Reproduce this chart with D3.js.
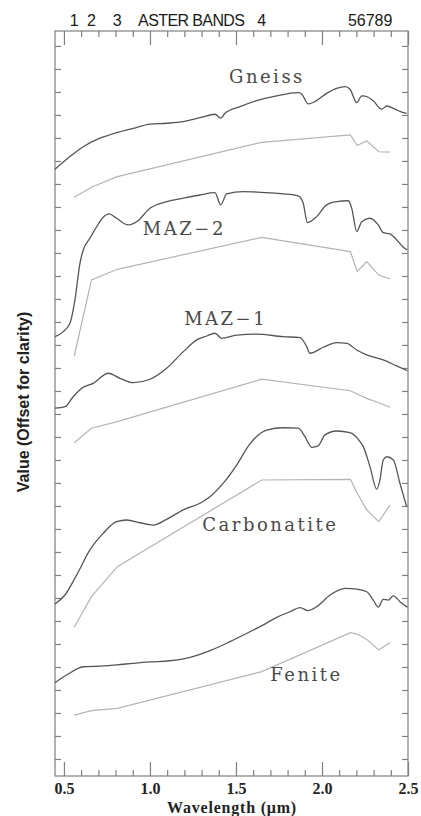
<!DOCTYPE html>
<html>
<head>
<meta charset="utf-8">
<script src="https://cdnjs.cloudflare.com/ajax/libs/d3/7.8.5/d3.min.js"></script>
<style>
  body { margin: 0; background: #fff; }
  .frame { fill: none; stroke: #808080; stroke-width: 1.2; }
  .axis path { display: none; }
  .axis line { stroke: #808080; stroke-width: 1.2; }
  .axis text { font-family: "Liberation Serif", serif; font-weight: bold; font-size: 16px; fill: #222; }
  .lab { fill: none; stroke: #555; stroke-width: 1.3; }
  .aster { fill: none; stroke: #b4b4b4; stroke-width: 1.2; }
  .rock { font-family: "DejaVu Serif", serif; font-size: 18px; letter-spacing: 2.5px; fill: #4a4a4a; }
  .band { font-family: "Liberation Sans", sans-serif; font-size: 16px; fill: #1a1a1a; }
</style>
</head>
<body>
<svg width="421" height="816"></svg>
<script>
// aster band centres (um) and top labels
var asterBands = [0.56, 0.66, 0.81, 1.65, 2.165, 2.205, 2.26, 2.33, 2.395];
var bandNames = ["1", "2", "3", "4", "5", "6", "7", "8", "9"];
var xTicks = [0.5, 1.0, 1.5, 2.0, 2.5];

// lab spectra, offset values
var gneissWl = [0.448, 0.535, 0.612, 0.709, 0.806, 0.903, 1.0, 1.097, 1.194, 1.291, 1.378, 1.411, 1.436, 1.523, 1.62, 1.736, 1.862, 1.882, 1.92, 1.959, 2.027, 2.085, 2.134, 2.163, 2.202, 2.231, 2.269, 2.298, 2.347, 2.376, 2.424, 2.473, 2.492];
var gneissLab = [26.64, 27.19, 27.62, 27.99, 28.23, 28.42, 28.6, 28.64, 28.71, 28.88, 29.03, 28.86, 29.07, 29.36, 29.62, 29.83, 29.97, 29.91, 29.48, 29.58, 29.94, 30.16, 30.23, 30.12, 29.53, 29.83, 29.77, 29.62, 29.25, 29.39, 29.25, 29.1, 29.07];

var maz2Wl = [0.448, 0.496, 0.535, 0.564, 0.593, 0.612, 0.651, 0.69, 0.728, 0.763, 0.806, 0.874, 0.923, 1.0, 1.097, 1.194, 1.291, 1.378, 1.411, 1.446, 1.542, 1.678, 1.775, 1.862, 1.891, 1.915, 1.969, 2.027, 2.085, 2.153, 2.173, 2.202, 2.231, 2.279, 2.327, 2.357, 2.395, 2.434, 2.473, 2.496];
var maz2Lab = [19.36, 19.58, 19.94, 20.96, 22.55, 23.13, 23.64, 24.14, 24.55, 24.7, 24.51, 24.22, 24.36, 24.94, 25.23, 25.38, 25.52, 25.62, 25.09, 25.57, 25.67, 25.62, 25.57, 25.48, 25.16, 24.32, 24.58, 25.09, 25.23, 25.27, 24.94, 23.93, 24.36, 24.51, 24.22, 23.88, 23.83, 23.57, 23.25, 23.13];

var maz1Wl = [0.448, 0.506, 0.554, 0.603, 0.67, 0.758, 0.826, 0.903, 1.0, 1.097, 1.194, 1.272, 1.33, 1.378, 1.417, 1.504, 1.62, 1.775, 1.872, 1.911, 1.93, 2.008, 2.085, 2.144, 2.202, 2.26, 2.356, 2.434, 2.496];
var maz1Lab = [16.25, 16.32, 16.75, 17.12, 17.33, 17.77, 17.55, 17.36, 17.51, 17.99, 18.71, 19.22, 19.39, 19.51, 19.29, 19.43, 19.47, 19.36, 19.32, 18.93, 18.64, 18.9, 19.1, 19.07, 18.78, 18.57, 18.35, 18.09, 17.88];

var carbWl = [0.448, 0.506, 0.574, 0.651, 0.728, 0.806, 0.865, 0.942, 1.019, 1.097, 1.194, 1.291, 1.349, 1.426, 1.504, 1.581, 1.678, 1.775, 1.862, 1.901, 1.94, 1.978, 2.017, 2.085, 2.163, 2.221, 2.24, 2.279, 2.318, 2.337, 2.356, 2.376, 2.415, 2.453, 2.492];
var carbLab = [7.74, 8.13, 9.0, 10.09, 10.81, 11.32, 11.39, 11.27, 11.17, 11.42, 11.83, 12.12, 12.4, 12.99, 13.78, 14.7, 15.3, 15.4, 15.38, 15.01, 14.55, 14.61, 15.09, 15.26, 15.19, 14.8, 14.58, 13.71, 12.73, 13.13, 14.0, 14.14, 14.0, 12.99, 11.97];

var feniteWl = [0.448, 0.516, 0.612, 0.709, 0.806, 0.903, 1.0, 1.116, 1.233, 1.349, 1.465, 1.581, 1.659, 1.737, 1.814, 1.872, 1.92, 1.969, 2.047, 2.134, 2.202, 2.26, 2.298, 2.327, 2.356, 2.385, 2.415, 2.453, 2.496];
var feniteLab = [4.32, 4.65, 5.01, 5.04, 5.09, 5.16, 5.22, 5.27, 5.42, 5.71, 6.1, 6.53, 6.83, 7.16, 7.4, 7.58, 7.45, 7.62, 8.13, 8.42, 8.38, 8.27, 7.91, 7.6, 7.94, 7.91, 8.09, 7.84, 7.6];

// same spectra resampled to aster bands
var gneissAster = [25.42, 25.86, 26.32, 27.81, 28.13, 27.67, 27.88, 27.4, 27.38];
var maz2Aster = [18.52, 21.83, 22.29, 23.68, 23.06, 22.19, 22.62, 22.04, 21.87];
var maz1Aster = [14.75, 15.38, 15.67, 17.51, 17.01, 16.87, 16.68, 16.49, 16.29];
var carbAster = [6.74, 8.06, 9.36, 13.13, 13.16, 12.55, 11.83, 11.32, 12.04];
var feniteAster = [2.91, 3.1, 3.2, 4.8, 6.49, 6.43, 6.2, 5.74, 6.06];

// rock names with label anchor (wavelength, value)
var rockNames = ["Gneiss", "MAZ\u22122", "MAZ\u22121", "Carbonatite", "Fenite"];
var rockLabelWl = [1.68, 1.2, 1.44, 1.7, 1.91];
var rockLabelVal = [30.4, 23.8, 19.85, 10.9, 4.4];

var svg = d3.select("svg"),
    margin = {top: 31, right: 13, bottom: 40, left: 55},
    width = +svg.attr("width") - margin.left - margin.right,
    height = +svg.attr("height") - margin.top - margin.bottom;

var x = d3.scaleLinear().domain([0.448, 2.5]).range([0, width]),
    y = d3.scaleLinear().domain([0.26, 32.65]).range([height, 0]);

var chart = svg.append("g")
    .attr("transform", "translate(" + margin.left + "," + margin.top + ")");

var minor = d3.range(5, 25).map(function(d) { return d / 10; })
    .filter(function(d) { return Math.round(d * 10) % 5 !== 0; });

// bottom axis: major with labels, minor without
chart.append("g")
    .attr("class", "axis")
    .attr("transform", "translate(0," + height + ")")
    .call(d3.axisBottom(x).tickValues(xTicks).tickSize(-14).tickPadding(7)
      .tickFormat(d3.format(".1f")));
chart.append("g")
    .attr("class", "axis")
    .attr("transform", "translate(0," + height + ")")
    .call(d3.axisBottom(x).tickValues(minor).tickSize(-6).tickFormat(""));

// top axis mirrors the bottom one
chart.append("g")
    .attr("class", "axis")
    .call(d3.axisTop(x).tickValues(xTicks).tickSize(-14).tickFormat(""));
chart.append("g")
    .attr("class", "axis")
    .call(d3.axisTop(x).tickValues(minor).tickSize(-6).tickFormat(""));

// y ticks, no labels
var yTicks = d3.range(1, 33);
chart.append("g")
    .attr("class", "axis")
    .call(d3.axisLeft(y).tickValues(yTicks).tickSize(-6).tickFormat(""));
chart.append("g")
    .attr("class", "axis")
    .attr("transform", "translate(" + width + ",0)")
    .call(d3.axisRight(y).tickValues(yTicks).tickSize(-6).tickFormat(""));

chart.append("rect")
    .attr("class", "frame")
    .attr("width", width)
    .attr("height", height);

var labLine = d3.line()
    .x(function(d) { return x(d[0]); })
    .y(function(d) { return y(d[1]); })
    .curve(d3.curveMonotoneX);

var asterLine = d3.line()
    .x(function(d) { return x(d[0]); })
    .y(function(d) { return y(d[1]); });

var labs = [[gneissWl, gneissLab], [maz2Wl, maz2Lab], [maz1Wl, maz1Lab], [carbWl, carbLab], [feniteWl, feniteLab]];
var asters = [gneissAster, maz2Aster, maz1Aster, carbAster, feniteAster];

// resampled spectra first, lab spectra over them
chart.selectAll(".aster")
    .data(asters)
  .enter().append("path")
    .attr("class", "aster")
    .attr("d", function(v) { return asterLine(d3.zip(asterBands, v)); });

chart.selectAll(".lab")
    .data(labs)
  .enter().append("path")
    .attr("class", "lab")
    .attr("d", function(s) { return labLine(d3.zip(s[0], s[1])); });

chart.selectAll(".rock")
    .data(rockNames)
  .enter().append("text")
    .attr("class", "rock")
    .attr("x", function(d, i) { return x(rockLabelWl[i]); })
    .attr("y", function(d, i) { return y(rockLabelVal[i]); })
    .attr("text-anchor", "middle")
    .text(function(d) { return d; });

// aster band numbers along the top; 5-9 are too close, so written as one run
chart.selectAll(".band")
    .data(bandNames.slice(0, 4))
  .enter().append("text")
    .attr("class", "band")
    .attr("x", function(d, i) { return x(asterBands[i]); })
    .attr("y", -5)
    .attr("text-anchor", "middle")
    .text(function(d) { return d; });

chart.append("text")
    .attr("class", "band")
    .attr("x", x(d3.mean([asterBands[4], asterBands[8]])))
    .attr("y", -5)
    .attr("text-anchor", "middle")
    .text(bandNames.slice(4).join(""));

chart.append("text")
    .attr("class", "band")
    .attr("x", x(1.24))
    .attr("y", -5)
    .attr("text-anchor", "middle")
    .style("letter-spacing", "-0.6px")
    .text("ASTER BANDS");

// axis titles
svg.append("text")
    .attr("x", margin.left + x(1.5) - 4)
    .attr("y", 813)
    .attr("text-anchor", "middle")
    .style("font-family", "Liberation Serif, serif")
    .style("font-weight", "bold")
    .style("font-size", "16px")
    .style("letter-spacing", "0.8px")
    .style("fill", "#222")
    .text("Wavelength (\u03bcm)");

svg.append("text")
    .attr("transform", "translate(29,402) rotate(-90)")
    .attr("text-anchor", "middle")
    .style("font-family", "Liberation Sans, sans-serif")
    .style("font-weight", "bold")
    .style("font-size", "16px")
    .style("fill", "#222")
    .text("Value (Offset for clarity)");
</script>
</body>
</html>
